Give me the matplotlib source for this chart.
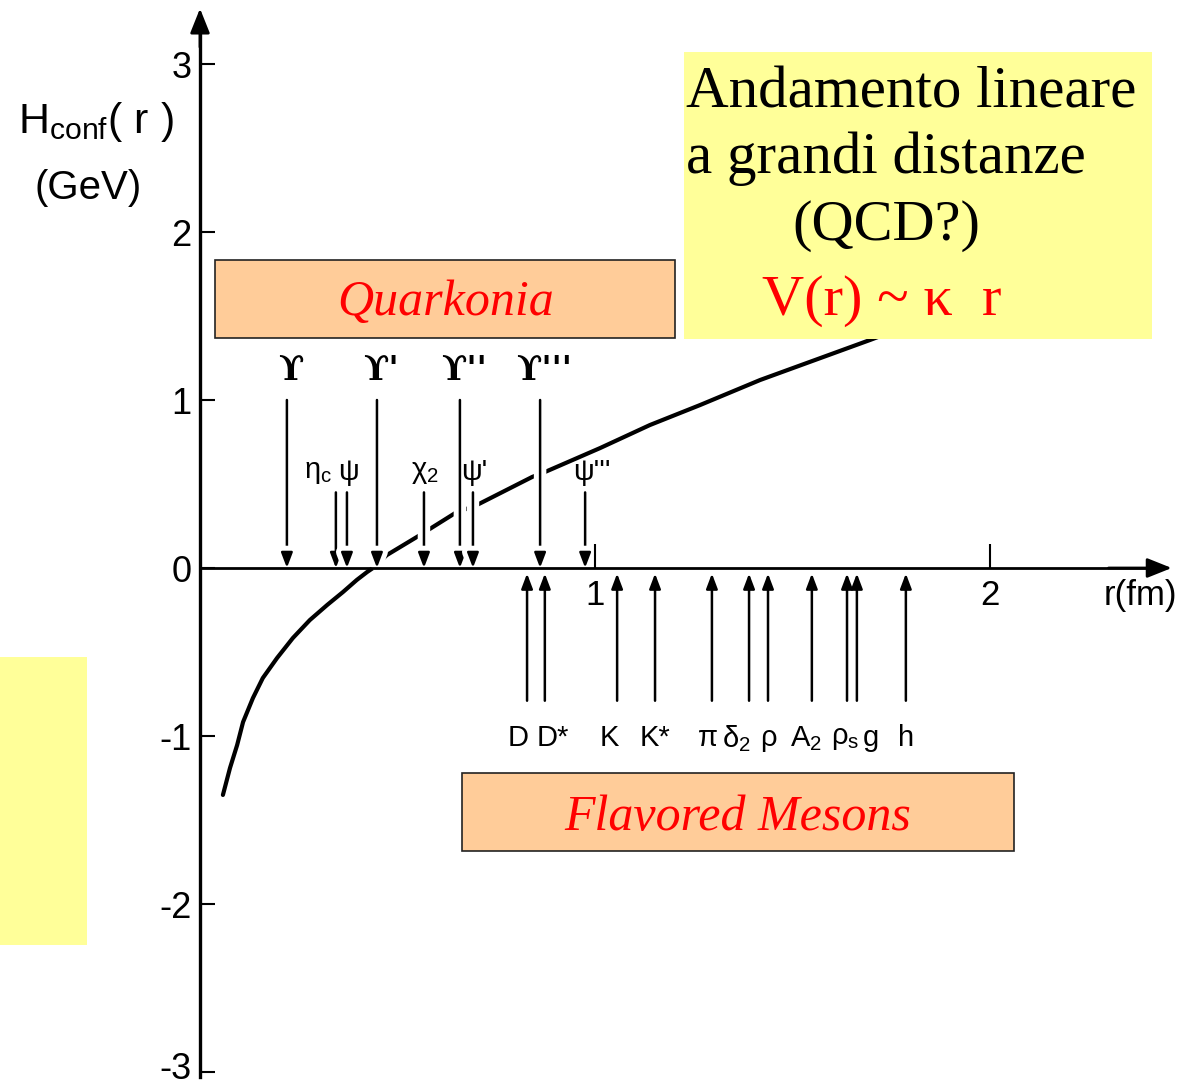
import matplotlib.pyplot as plt
import matplotlib.patheffects as pe
from matplotlib.patches import Rectangle
from matplotlib.transforms import ScaledTranslation

# confining potential (r in fm, H in GeV)
r_curve = [0.058, 0.076, 0.094, 0.109, 0.134, 0.159, 0.195, 0.235, 0.278, 0.322,
           0.362, 0.397, 0.423, 0.438, 0.473, 0.557, 0.646, 0.701, 0.841, 0.873,
           1.013, 1.139, 1.266, 1.418, 1.696, 1.899]
h_curve = [-1.351, -1.190, -1.054, -0.917, -0.774, -0.655, -0.536, -0.417, -0.310, -0.220,
           -0.143, -0.071, -0.024, 0.0, 0.077, 0.196, 0.327, 0.375, 0.542, 0.571,
           0.714, 0.851, 0.970, 1.119, 1.357, 1.536]

# bottomonium states (long arrows from above)
upsilon_r = [0.220, 0.448, 0.658, 0.861]
upsilon_labels = ["ϒ", "ϒ'", "ϒ''", "ϒ'''"]
upsilon_level = 1.0

# charmonium states (short arrows from above)
charm_r = [0.344, 0.372, 0.567, 0.691, 0.975]
charm_labels = [r"$\mathregular{\eta_c}$", "ψ", r"$\mathregular{\chi_2}$", "ψ'", "ψ'''"]
charm_level = 0.45

# flavored mesons (arrows from below)
meson_r = [0.828, 0.873, 1.056, 1.152, 1.296, 1.390, 1.438, 1.549, 1.638, 1.663, 1.787]
meson_labels = ["D", "D*", "K", "K*", "π", r"$\mathregular{\delta_2}$", "ρ",
                r"$\mathregular{A_2}$", r"$\mathregular{\rho_s}$", "g", "h"]
meson_level = -0.79

y_ticks = [-3, -2, -1, 0, 1, 2, 3]
x_ticks = [1, 2]

W, H = 1192, 1085
SANS = ["Liberation Sans Narrow", "Liberation Sans", "DejaVu Sans"]
SERIF = ["Liberation Serif", "DejaVu Serif"]
ORANGE = "#FFCC99"
YELLOW = "#FFFF99"

plt.rcParams["axes.unicode_minus"] = False
plt.rcParams["font.family"] = SANS


def fig_xy(px, py):
    return px / W, 1 - py / H


fig = plt.figure(figsize=(W / 100, H / 100), dpi=100)
fig.patch.set_facecolor("white")
ax = fig.add_axes([0, 0, 1, 1])
ax.set_facecolor("none")

# 395 px per fm, 168 px per GeV, origin at pixel (200, 568)
ax.set_xlim(-200 / 395, (W - 200) / 395)
ax.set_ylim(-(H - 568) / 168, 568 / 168)

for side in ["top", "right"]:
    ax.spines[side].set_visible(False)
ax.spines["left"].set_position(("data", 0))
ax.spines["bottom"].set_position(("data", 0))
ax.spines["left"].set_bounds(-3.03, 3.25)
ax.spines["bottom"].set_bounds(0, 2.40)
ax.spines["left"].set_linewidth(2.4)
ax.spines["bottom"].set_linewidth(2.0)
for sp in ax.spines.values():
    sp.set_zorder(4)
ax.xaxis.set_zorder(4)
ax.yaxis.set_zorder(4)

ax.set_yticks(y_ticks)
ax.set_yticklabels([str(t) for t in y_ticks])
ax.set_xticks(x_ticks)
ax.set_xticklabels([str(t) for t in x_ticks])
ax.tick_params(axis="y", direction="in", length=11, width=1.5, pad=6, labelsize=26)
ax.tick_params(axis="x", direction="in", length=17, width=1.5, pad=8, labelsize=25)
# lift the lowest label a little so it stays inside the canvas
low = ax.get_yticklabels()[0]
low.set_transform(low.get_transform() + ScaledTranslation(0, 5 / 72, fig.dpi_scale_trans))

# arrow heads on the axes
head = dict(arrowstyle="-|>,head_length=0.5,head_width=0.2", mutation_scale=30,
            lw=2, color="black", shrinkA=0, shrinkB=0)
ax.annotate("", xy=(0, 3.33), xytext=(0, 3.1), arrowprops=head, zorder=4)
ax.annotate("", xy=(2.46, 0), xytext=(2.3, 0), arrowprops=head, zorder=4)

ax.plot(r_curve, h_curve, color="black", lw=3, solid_capstyle="round",
        solid_joinstyle="round", zorder=2)

arrow = dict(arrowstyle="-|>,head_length=0.45,head_width=0.17", mutation_scale=20,
             lw=1.8, color="black", shrinkA=0, shrinkB=0)
# white halo so the potential line breaks where the state arrows cross it
halo = [pe.Stroke(linewidth=9, foreground="white"), pe.Normal()]

for r, lab in zip(upsilon_r, upsilon_labels):
    a = ax.annotate("", xy=(r, 0), xytext=(r, upsilon_level), arrowprops=arrow, zorder=3)
    a.arrow_patch.set_path_effects(halo)
    ax.annotate(lab, xy=(r, upsilon_level), xytext=(3, 21), textcoords="offset points",
                ha="center", va="center", fontsize=24, fontweight="bold",
                family=["DejaVu Serif"])

charm_ha = {0: ("right", -3), 4: ("center", 5)}
for i, (r, lab) in enumerate(zip(charm_r, charm_labels)):
    a = ax.annotate("", xy=(r, 0), xytext=(r, charm_level), arrowprops=arrow, zorder=3)
    if i > 0:
        a.arrow_patch.set_path_effects(halo)
    ha, dx = charm_ha.get(i, ("center", 1))
    ax.annotate(lab, xy=(r, charm_level), xytext=(dx, 15), textcoords="offset points",
                ha=ha, va="center", fontsize=21)

meson_ha = {"D": ("right", 1), "D*": ("left", -6), "K": ("right", 1), "π": ("center", -3),
            r"$\mathregular{\delta_2}$": ("right", 1), r"$\mathregular{A_2}$": ("center", -4),
            r"$\mathregular{\rho_s}$": ("center", -1), "g": ("left", 4)}
for r, lab in zip(meson_r, meson_labels):
    ax.annotate("", xy=(r, 0), xytext=(r, meson_level),
                arrowprops=dict(arrow, shrinkB=4), zorder=3)
    ha, dx = meson_ha.get(lab, ("center", 0))
    ax.annotate(lab, xy=(r, meson_level), xytext=(dx, -27), textcoords="offset points",
                ha=ha, va="center", fontsize=21)

# axis titles
ax.text(*fig_xy(18, 122), r"$\mathregular{H_{conf}}$( r )", transform=fig.transFigure,
        ha="left", va="center", fontsize=31)
ax.text(*fig_xy(88, 188), "(GeV)", transform=fig.transFigure,
        ha="center", va="center", fontsize=29)
ax.text(*fig_xy(1140, 596), "r(fm)", transform=fig.transFigure,
        ha="center", va="center", fontsize=25)

# annotation boxes
def add_box(x0, y0, x1, y1, color, edge):
    fx0, fy1 = fig_xy(x0, y1)
    rect = Rectangle((fx0, fy1), (x1 - x0) / W, (y1 - y0) / H, transform=fig.transFigure,
                     facecolor=color, edgecolor="#222222" if edge else "none",
                     lw=1.2, zorder=5)
    ax.add_patch(rect)


add_box(215, 260, 675, 338, ORANGE, True)
add_box(462, 773, 1014, 851, ORANGE, True)
add_box(684, 52, 1152, 339, YELLOW, False)
add_box(0, 657, 87, 945, YELLOW, False)

ax.text(*fig_xy(446, 315), "Quarkonia", transform=fig.transFigure, ha="center",
        va="baseline", fontsize=36, style="italic", color="red", family=SERIF, zorder=6)
ax.text(*fig_xy(738, 830), "Flavored Mesons", transform=fig.transFigure, ha="center",
        va="baseline", fontsize=36, style="italic", color="red", family=SERIF, zorder=6)

ax.text(*fig_xy(686, 107), "Andamento lineare", transform=fig.transFigure, ha="left",
        va="baseline", fontsize=42.5, family=SERIF, zorder=6)
ax.text(*fig_xy(686, 173), "a grandi distanze", transform=fig.transFigure, ha="left",
        va="baseline", fontsize=42.5, family=SERIF, zorder=6)
ax.text(*fig_xy(886, 240), "(QCD?)", transform=fig.transFigure, ha="center",
        va="baseline", fontsize=42, family=SERIF, zorder=6)
ax.text(*fig_xy(882, 315), "V(r) ~ κ  r", transform=fig.transFigure, ha="center",
        va="baseline", fontsize=42, color="red", family=SERIF, zorder=6)

fig.savefig("out.png", dpi=100)
